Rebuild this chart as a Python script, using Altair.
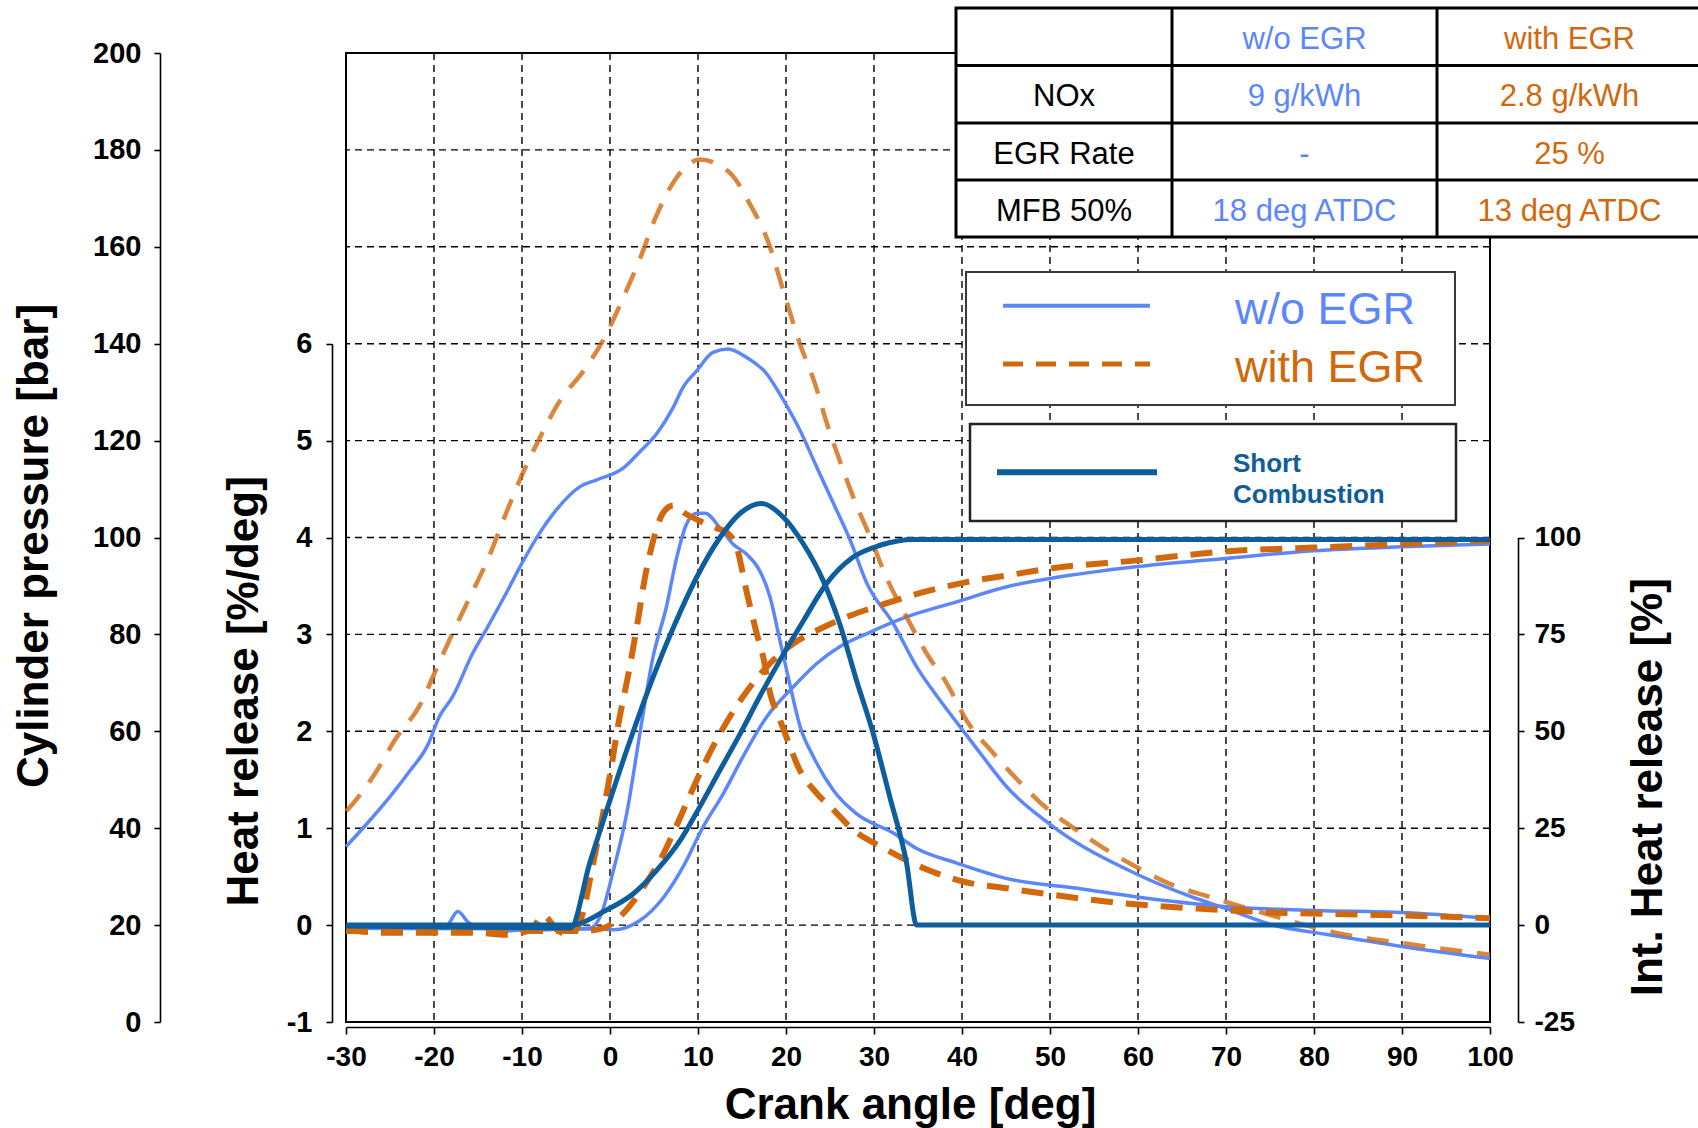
import altair as alt
import pandas as pd

# ---------------- data ----------------
X_TICKS = [-30, -20, -10, 0, 10, 20, 30, 40, 50, 60, 70, 80, 90, 100]
X_GRID = [-20, -10, 0, 10, 20, 30, 40, 50, 60, 70, 80, 90]
P_TICKS = [0, 20, 40, 60, 80, 100, 120, 140, 160, 180, 200]
P_GRID = [20, 40, 60, 80, 100, 120, 140, 160, 180]
HR_TICKS = [-1, 0, 1, 2, 3, 4, 5, 6]
INT_TICKS = [-25, 0, 25, 50, 75, 100]

# cylinder pressure [bar]
P_WO_DEG = [-30, -27.1, -25, -22.8, -20.7, -19.4, -17.9, -15.6, -14.1, -11.8, -10, -8, -6.1, -3.4, -1.5, 1.5,
            3.4, 5.3, 7.2, 8.3, 9.85, 11.7, 13.4, 15.5, 17.8, 19.3, 21.6, 23.5, 25.4, 27.3, 29.2, 32.2, 34.85,
            37.5, 39.8, 42.4, 45.1, 50, 60, 66, 70, 76, 80, 90, 100]
P_WO = [36.2, 42.0, 46.5, 51.7, 57.2, 63.0, 67.1, 76.1, 80.9, 88.5, 94.7, 100.9, 105.7, 110.5, 111.9, 114.3,
        117.7, 121.4, 126.9, 131, 134.4, 138.2, 138.9, 137.2, 133.8, 129.6, 122.1, 114.5, 107, 99.4, 90.5, 82.2,
        73.3, 66.4, 60.9, 54.7, 48.5, 40.8, 30.4, 25.9, 23.4, 19.7, 18.5, 15.6, 13.1]
P_W_DEG = [-30, -29.2, -26.7, -24.3, -21.6, -19.7, -17.8, -15.7, -13.6, -11.9, -10, -8, -5.7, -3, -0.6, 1.5,
           3.4, 5.1, 7.2, 10.2, 13.6, 15.9, 18, 19.7, 21.6, 23.3, 24.6, 26.1, 27.8, 29.5, 31.4, 33.7, 36, 38.3,
           40.5, 43.6, 46.3, 49.7, 52.7, 56.1, 59.2, 63.9, 68, 74.8, 82.3, 91.1, 100]
P_W = [43.5, 45.1, 51.3, 58.6, 65.4, 73.0, 80.6, 88.5, 96.7, 104.6, 112.9, 120.5, 128.2, 134.4, 141.3, 149.5,
       157.5, 165.7, 173.3, 178, 175.3, 168.8, 160.9, 150.9, 139.9, 131.7, 123.8, 115.9, 107.6, 100.4, 91.8,
       83.6, 76, 69.8, 62.3, 55.4, 50, 44, 40, 35.9, 32.6, 28.3, 25.9, 22.2, 18.5, 16, 13.9]

# heat release rate [%/deg]
HR_WO_DEG = [-30, -25, -20, -18.5, -17.3, -16, -14, -12, -10, -8, -5, -2.3, -1.1, 0.4, 1.9, 3.4, 4.9, 6.4, 7.6,
             8.7, 9.85, 10.8, 12.5, 14, 15.5, 17, 18.2, 19.3, 20.5, 21.6, 23.1, 25.4, 28, 32.2, 34.85, 39.4,
             45.1, 53.1, 59.9, 70.1, 80.2, 89.8, 100]
HR_WO = [-0.01, -0.03, -0.03, 0.0, 0.14, 0.02, -0.04, -0.06, -0.05, -0.05, -0.04, -0.03, 0.09, 0.57, 1.15,
         1.98, 2.77, 3.28, 3.8, 4.14, 4.25, 4.25, 4.1, 3.93, 3.83, 3.66, 3.38, 2.94, 2.46, 2.05, 1.74, 1.39,
         1.15, 0.95, 0.79, 0.64, 0.48, 0.38, 0.29, 0.19, 0.15, 0.13, 0.07]
HR_W_DEG = [-30, -25, -20, -15, -12, -9, -7.6, -6, -4.5, -3, -2, -1, 0, 1, 2, 3, 4, 5, 6, 7.2, 8.5, 10, 12,
            13.3, 14.4, 15.5, 16.7, 17.4, 18.2, 19.3, 20.3, 21.4, 23.5, 25.4, 27.3, 31.4, 35.6, 40.1, 45.1,
            49.7, 57.8, 66.7, 75.5, 85, 93.8, 100]
HR_W = [-0.05, -0.08, -0.08, -0.08, -0.1, -0.05, 0.1, -0.05, -0.1, 0.15, 0.6, 1.05, 1.55, 2.1, 2.55, 3.05,
        3.6, 4.0, 4.25, 4.33, 4.25, 4.18, 4.1, 4.05, 3.9, 3.45, 3.0, 2.77, 2.39, 2.12, 1.88, 1.63, 1.36, 1.19,
        1.01, 0.78, 0.59, 0.45, 0.38, 0.32, 0.23, 0.17, 0.13, 0.11, 0.09, 0.07]
HR_SC_DEG = [-30, -4.5, -2.3, 0, 2.3, 4.9, 7.2, 9.85, 12.5, 14.8, 17.2, 19.7, 22, 24.2, 26.1, 28, 29.9, 31.8,
             33.7, 34.85, 100]
HR_SC = [-0.01, -0.03, 0.64, 1.29, 1.91, 2.56, 3.07, 3.59, 4.0, 4.25, 4.35, 4.21, 3.93, 3.56, 3.11, 2.53,
         1.98, 1.32, 0.64, 0.0, 0.0]

# integrated heat release [%]
I_WO_DEG = [-30, -5, -2, 0.4, 3.4, 6.1, 8.3, 10.6, 12.9, 15.1, 17.8, 20.8, 23.5, 26.1, 29.2, 33.7, 39.4, 45.1,
            50, 60, 69.9, 80, 90, 100]
I_WO = [-0.8, -1, -1, -1.2, 1.2, 7.2, 15, 25.4, 34, 43.4, 53.7, 61.4, 67.5, 71.8, 75.2, 79.5, 83.4, 87.3, 89.4,
        92.5, 94.6, 96.6, 97.6, 98.3]
I_W_DEG = [-30, -3, -0.76, 1.5, 3.8, 6.1, 8, 10.2, 12.5, 15.1, 17.8, 20.8, 23.5, 26.9, 31.1, 35.6, 40.5, 45.1,
           50, 60, 69.9, 80, 90, 100]
I_W = [-1.5, -1.5, -0.8, 3, 9.8, 18.5, 27.9, 39.1, 49.4, 58.9, 66.6, 72.6, 76, 79.5, 82.8, 85.9, 88.5, 90.2,
       92, 94.1, 96.4, 97.4, 98.3, 99.2]
I_SC_DEG = [-30, -4.5, -0.4, 2.65, 5.3, 8, 10.2, 12.5, 14.8, 17, 19.3, 22, 24.6, 27.6, 30.7, 34.5, 100]
I_SC = [0, 0, 3.9, 8.1, 14.1, 21.9, 30.5, 40, 49.4, 58.9, 68.3, 78.6, 88.1, 94.9, 98, 99.5, 99.5]

# table and legend texts
TABLE_HEADER = ["", "w/o EGR", "with EGR"]
TABLE_ROW_NAMES = ["NOx", "EGR Rate", "MFB 50%"]
TABLE_WO = ["9 g/kWh", "-", "18 deg ATDC"]
TABLE_W = ["2.8 g/kWh", "25 %", "13 deg ATDC"]
LEGEND_MAIN = ["w/o EGR", "with EGR"]
LEGEND_SC = ["Short", "Combustion"]

# ---------------- style / layout ----------------
BLUE = "#5b87fb"
ORANGE = "#d2680c"
DARK = "#0e5d9c"
FONT = "Liberation Sans"

W, H = 1144, 969
PAD = {"left": 346, "top": 53, "right": 208, "bottom": 106}
HR_TOP = H * (1 - 140 / 200)     # HR 6  <-> 140 bar
INT_TOP = H * (1 - 100 / 200)    # 100 % <-> 100 bar

x_scale = alt.Scale(domain=[-30, 100], nice=False, zero=False)
p_scale = alt.Scale(domain=[0, 200], nice=False, zero=False)
hr_scale = alt.Scale(domain=[-1, 6], range=[H, HR_TOP], nice=False, zero=False)
int_scale = alt.Scale(domain=[-25, 100], range=[H, INT_TOP], nice=False, zero=False)

PLAIN = "datum.value + ''"   # hyphen-minus instead of the typographic minus
AX = dict(grid=False, labelFlush=False, labelOverlap=False, tickSize=6)
x_axis = alt.Axis(values=X_TICKS, orient="bottom", offset=5, labelPadding=9, title="Crank angle [deg]",
                  titlePadding=12, titleX=564, labelFontSize=28, titleFontSize=44, labelExpr=PLAIN,
                  **{**AX, "tickSize": 7})
p_axis = alt.Axis(values=P_TICKS, orient="left", offset=186, labelPadding=13, labelExpr=PLAIN,
                  title="Cylinder pressure [bar]", titlePadding=36, titleY=H / 2 + 8,
                  labelFontSize=29, titleFontSize=44, **AX)
hr_axis = alt.Axis(values=HR_TICKS, orient="left", offset=14, labelPadding=14, labelExpr=PLAIN,
                   title="Heat release [%/deg]", titlePadding=20, titleY=(H + HR_TOP) / 2 + 8,
                   labelFontSize=29, titleFontSize=44, **AX)
int_axis = alt.Axis(values=INT_TICKS, orient="right", offset=28, labelPadding=10, labelExpr=PLAIN,
                    title="Int. Heat release [%]", titleAngle=270, titleBaseline="top", titlePadding=46,
                    titleY=(H + INT_TOP) / 2 + 7, labelFontSize=28, titleFontSize=44, **AX)

ONE = pd.DataFrame({"k": [0]})


def series(deg, val, scale, color, width, dash=None, yaxis=None, xaxis=None, opacity=1.0):
    d = pd.DataFrame({"deg": deg, "val": val})
    kw = dict(color=color, strokeWidth=width, interpolate="monotone", opacity=opacity)
    if dash:
        kw["strokeDash"] = dash
    return alt.Chart(d).mark_line(**kw).encode(
        x=alt.X("deg:Q", scale=x_scale, axis=xaxis),
        y=alt.Y("val:Q", scale=scale, axis=yaxis),
    )


grid_x = alt.Chart(pd.DataFrame({"g": X_GRID})).mark_rule(color="black", strokeWidth=1.4, strokeDash=[7, 5]).encode(
    x=alt.X("g:Q", scale=x_scale, axis=None))
grid_y = alt.Chart(pd.DataFrame({"g": P_GRID})).mark_rule(color="black", strokeWidth=1.4, strokeDash=[7, 5]).encode(
    y=alt.Y("g:Q", scale=p_scale, axis=None))

lines = [
    series(P_WO_DEG, P_WO, p_scale, BLUE, 3.5, yaxis=p_axis, xaxis=x_axis),
    series(HR_WO_DEG, HR_WO, hr_scale, BLUE, 3.5, yaxis=hr_axis),
    series(I_WO_DEG, I_WO, int_scale, BLUE, 3.5, yaxis=int_axis),
    series(P_W_DEG, P_W, p_scale, ORANGE, 4.5, dash=[22, 15], opacity=0.8),
    series(HR_W_DEG, HR_W, hr_scale, ORANGE, 6, dash=[22, 13]),
    series(I_W_DEG, I_W, int_scale, ORANGE, 6, dash=[22, 13]),
    series(HR_SC_DEG, HR_SC, hr_scale, DARK, 5),
    series(I_SC_DEG, I_SC, int_scale, DARK, 5),
]

# ---------------- table (pixel layout relative to plot origin) ----------------
COL_EDGES = [610, 826, 1091, 1356]
ROW_EDGES = [-45, 12.5, 70, 127, 184]
col_c = [(COL_EDGES[i] + COL_EDGES[i + 1]) / 2 for i in range(3)]
row_c = [(ROW_EDGES[i] + ROW_EDGES[i + 1]) / 2 + 3 for i in range(4)]

cells = []
table_cols = [[TABLE_HEADER[0]] + TABLE_ROW_NAMES, [TABLE_HEADER[1]] + TABLE_WO, [TABLE_HEADER[2]] + TABLE_W]
col_colors = ["black", BLUE, ORANGE]
for ci, col in enumerate(table_cols):
    for ri, t in enumerate(col):
        if t:
            cells.append({"px": col_c[ci], "py": row_c[ri], "t": t, "c": col_colors[ci]})
cells = pd.DataFrame(cells)

tbl_lines = []
for xe in COL_EDGES[1:3]:
    tbl_lines.append({"x": xe, "x2": xe, "y": ROW_EDGES[0], "y2": ROW_EDGES[-1]})
for ye in ROW_EDGES[1:4]:
    tbl_lines.append({"x": COL_EDGES[0], "x2": COL_EDGES[-1], "y": ye, "y2": ye})
tbl_lines = pd.DataFrame(tbl_lines)

table_rect = alt.Chart(ONE).mark_rect(fill="white", stroke="black", strokeWidth=3).encode(
    x=alt.value(COL_EDGES[0]), x2=alt.value(COL_EDGES[-1]), y=alt.value(ROW_EDGES[0]), y2=alt.value(ROW_EDGES[-1]))
table_rules = alt.Chart(tbl_lines).mark_rule(color="black", strokeWidth=3).encode(
    x=alt.X("x:Q", scale=None, axis=None), x2="x2:Q",
    y=alt.Y("y:Q", scale=None, axis=None), y2="y2:Q")
table_text = alt.Chart(cells).mark_text(font=FONT, fontSize=31, align="center", baseline="middle").encode(
    x=alt.X("px:Q", scale=None, axis=None), y=alt.Y("py:Q", scale=None, axis=None),
    text="t:N", color=alt.Color("c:N", scale=None))

# ---------------- legend boxes ----------------
leg_box1 = alt.Chart(ONE).mark_rect(fill="white", stroke="#3a3a3a", strokeWidth=2).encode(
    x=alt.value(620), x2=alt.value(1109), y=alt.value(219), y2=alt.value(352))
leg_box2 = alt.Chart(ONE).mark_rect(fill="white", stroke="#222222", strokeWidth=2.5).encode(
    x=alt.value(624), x2=alt.value(1110), y=alt.value(371), y2=alt.value(468))
leg_l1 = alt.Chart(ONE).mark_rule(color=BLUE, strokeWidth=4).encode(
    x=alt.value(657), x2=alt.value(804), y=alt.value(252.7))
leg_l2 = alt.Chart(ONE).mark_rule(color=ORANGE, strokeWidth=5, strokeDash=[20, 13]).encode(
    x=alt.value(657), x2=alt.value(804), y=alt.value(311))
leg_l3 = alt.Chart(ONE).mark_rule(color=DARK, strokeWidth=6).encode(
    x=alt.value(651), x2=alt.value(811), y=alt.value(419.3))
leg_t1 = alt.Chart(ONE).mark_text(font=FONT, fontSize=45, align="left", baseline="alphabetic", color=BLUE).encode(
    x=alt.value(889), y=alt.value(271), text=alt.value(LEGEND_MAIN[0]))
leg_t2 = alt.Chart(ONE).mark_text(font=FONT, fontSize=45, align="left", baseline="alphabetic", color=ORANGE).encode(
    x=alt.value(889), y=alt.value(329), text=alt.value(LEGEND_MAIN[1]))
leg_t3 = alt.Chart(ONE).mark_text(font=FONT, fontSize=26, fontWeight="bold", align="left", baseline="alphabetic",
                                  color=DARK).encode(x=alt.value(887), y=alt.value(418.7), text=alt.value(LEGEND_SC[0]))
leg_t4 = alt.Chart(ONE).mark_text(font=FONT, fontSize=26, fontWeight="bold", align="left", baseline="alphabetic",
                                  color=DARK).encode(x=alt.value(887), y=alt.value(450.3), text=alt.value(LEGEND_SC[1]))

chart = alt.layer(
    grid_x, grid_y, *lines,
    table_rect, table_rules, table_text,
    leg_box1, leg_box2, leg_l1, leg_l2, leg_l3, leg_t1, leg_t2, leg_t3, leg_t4,
).resolve_scale(
    x="independent", y="independent"
).properties(
    width=W, height=H, padding=PAD, autosize=alt.AutoSizeParams(type="none"), background="white"
).configure_view(
    stroke="black", strokeWidth=2
).configure_axis(
    domainColor="black", domainWidth=1.6, tickColor="black", tickWidth=1.6,
    labelColor="black", labelFont=FONT, labelFontWeight="bold",
    titleColor="black", titleFont=FONT, titleFontWeight="bold",
)

chart.save("out.html", embed_options={"renderer": "svg", "actions": False})
